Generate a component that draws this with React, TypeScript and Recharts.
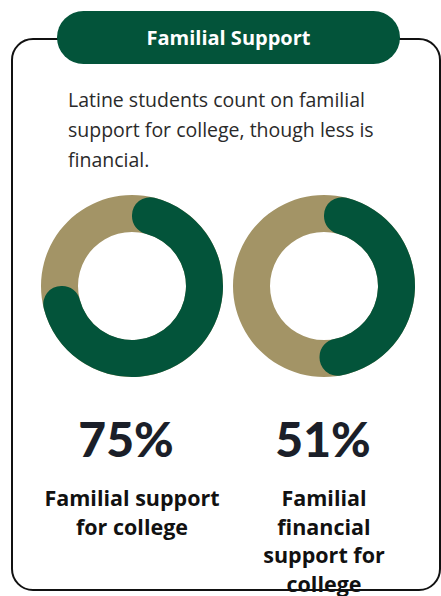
import React from 'react';
import { PieChart, Pie, Cell } from 'recharts';

const title = 'Familial Support';
const descriptionLines = [
  'Latine students count on familial',
  'support for college, though less is',
  'financial.',
];
const percentValues = [75, 51];
const metricLabels = [
  ['Familial support', 'for college'],
  ['Familial', 'financial', 'support for', 'college'],
];
const donutCenters = [132, 324];
const percentCenters = [126, 323];

const GREEN = '#03543a';
const TAN = '#a39466';
const INK = '#1b1f29';
const FONT = '"Open Sans", Lato, sans-serif';

const App: React.FC = () => {
  return (
    <div style={{ position: 'absolute', left: 0, top: 0, width: 441, height: 596, overflow: 'hidden', background: '#fff', fontFamily: FONT }}>
      {/* card outline */}
      <div
        style={{
          position: 'absolute',
          left: 11,
          top: 38,
          width: 430,
          height: 553,
          border: '2px solid #111',
          borderRadius: 22,
          boxSizing: 'border-box',
        }}
      />
      {/* header pill */}
      <div
        style={{
          position: 'absolute',
          left: 57,
          top: 11,
          width: 343,
          height: 53,
          borderRadius: 27,
          background: GREEN,
          color: '#fff',
          fontWeight: 700,
          fontSize: 20,
          display: 'flex',
          alignItems: 'center',
          justifyContent: 'center',
        }}
      >
        {title}
      </div>
      <div style={{ position: 'absolute', left: 68, top: 85, fontSize: 19.5, lineHeight: '30px', color: '#2a2a2a' }}>
        {descriptionLines.map((l) => (
          <div key={l}>{l}</div>
        ))}
      </div>

      <div style={{ position: 'absolute', left: 0, top: 190 }}>
        <PieChart width={441} height={192} margin={{ top: 0, right: 0, bottom: 0, left: 0 }}>
          {percentValues.map((v, i) => (
            <Pie
              key={'bg' + i}
              data={[{ name: 'all', value: 100 }]}
              dataKey="value"
              cx={donutCenters[i]}
              cy={96}
              innerRadius={54}
              outerRadius={91}
              startAngle={90}
              endAngle={-270}
              stroke="none"
              fill={TAN}
              isAnimationActive={false}
            />
          ))}
          {percentValues.map((v, i) => (
            <Pie
              key={'fg' + i}
              data={[
                { name: 'yes', value: v },
                { name: 'rest', value: 100 - v },
              ]}
              dataKey="value"
              cx={donutCenters[i]}
              cy={96}
              innerRadius={54}
              outerRadius={91}
              startAngle={90}
              endAngle={-270}
              cornerRadius={18}
              stroke="none"
              isAnimationActive={false}
            >
              <Cell fill={GREEN} />
              <Cell fill="transparent" />
            </Pie>
          ))}
        </PieChart>
      </div>

      {percentValues.map((v, i) => (
        <div
          key={'p' + i}
          style={{
            position: 'absolute',
            left: percentCenters[i] - 100,
            width: 200,
            top: 415,
            textAlign: 'center',
            fontFamily: 'Lato, sans-serif',
            fontSize: 48,
            lineHeight: '48px',
            fontWeight: 900,
            color: INK,
          }}
        >
          {v}%
        </div>
      ))}
      {metricLabels.map((lines, i) => (
        <div
          key={'l' + i}
          style={{
            position: 'absolute',
            left: donutCenters[i] - 100,
            width: 200,
            top: 484,
            textAlign: 'center',
            fontSize: 21.5,
            lineHeight: '28.5px',
            fontWeight: 700,
            color: '#111',
          }}
        >
          {lines.map((l) => (
            <div key={l}>{l}</div>
          ))}
        </div>
      ))}
    </div>
  );
};

export default App;
